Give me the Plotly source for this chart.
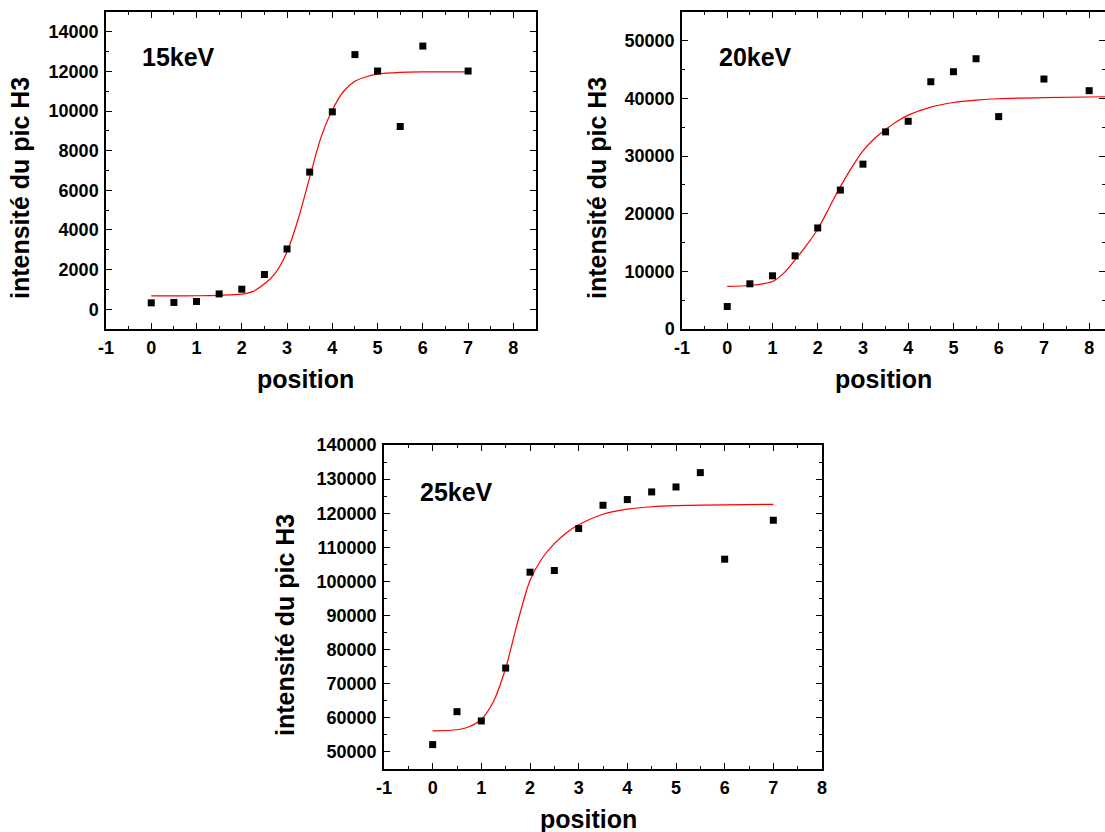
import plotly.graph_objects as go

# ---------------- data ----------------
pos_15 = [0, 0.5, 1, 1.5, 2, 2.5, 3, 3.5, 4, 4.5, 5, 5.5, 6, 7]
int_15 = [320, 340, 390, 770, 1010, 1750, 3040, 6920, 9960, 12850, 12020, 9220, 13280, 12020]
fit_x_15 = [0, 0.5, 1, 1.5, 2, 2.25, 2.5, 2.75, 3, 3.25, 3.5, 3.75, 4, 4.25, 4.5, 4.75, 5, 5.5, 6, 7]
fit_y_15 = [670, 670, 677, 700, 760, 900, 1280, 1850, 2900, 4580, 6650, 8670, 10050, 11000, 11500, 11730, 11860, 11950, 11975, 11980]

pos_20 = [0, 0.5, 1, 1.5, 2, 2.5, 3, 3.5, 4, 4.5, 5, 5.5, 6, 7, 8]
int_20 = [3900, 7840, 9230, 12690, 17530, 24100, 28600, 34200, 36040, 42900, 44640, 46890, 36850, 43370, 41350]
fit_x_20 = [0, 0.5, 1, 1.25, 1.5, 1.75, 2, 2.25, 2.5, 2.75, 3, 3.25, 3.5, 3.75, 4, 4.5, 5, 5.5, 6, 7, 8.4]
fit_y_20 = [7400, 7550, 8250, 9700, 12000, 14500, 17300, 21000, 24700, 28000, 30900, 33000, 34600, 36000, 37100, 38500, 39300, 39700, 39950, 40150, 40300]

pos_25 = [0, 0.5, 1, 1.5, 2, 2.5, 3, 3.5, 4, 4.5, 5, 5.5, 6, 7]
int_25 = [52150, 61810, 59080, 74600, 102710, 103200, 115500, 122330, 124000, 126240, 127700, 131900, 106520, 117940]
fit_x_25 = [0, 0.5, 0.75, 1, 1.25, 1.5, 1.75, 2, 2.25, 2.5, 2.75, 3, 3.5, 4, 4.5, 5, 6, 7]
fit_y_25 = [56200, 56500, 57400, 59600, 64800, 74600, 88300, 100300, 106800, 111100, 114300, 116600, 119700, 121200, 121900, 122200, 122450, 122600]

x_ticks = [-1, 0, 1, 2, 3, 4, 5, 6, 7, 8]
y_ticks_15 = [0, 2000, 4000, 6000, 8000, 10000, 12000, 14000]
y_ticks_20 = [0, 10000, 20000, 30000, 40000, 50000]
y_ticks_25 = [50000, 60000, 70000, 80000, 90000, 100000, 110000, 120000, 130000, 140000]

labels = ["15keV", "20keV", "25keV"]
x_title = "position"
y_title = "intensité du pic H3"

# ---------------- figure ----------------
W, H = 1105, 832
FONT = "Liberation Sans"

def px(x):
    return x / W

def py(y):
    return 1 - y / H

fig = go.Figure()

panels = [
    dict(xs=pos_15, ys=int_15, fx=fit_x_15, fy=fit_y_15, xa="x", ya="y"),
    dict(xs=pos_20, ys=int_20, fx=fit_x_20, fy=fit_y_20, xa="x2", ya="y2"),
    dict(xs=pos_25, ys=int_25, fx=fit_x_25, fy=fit_y_25, xa="x3", ya="y3"),
]
for p in panels:
    fig.add_trace(go.Scatter(x=p["fx"], y=p["fy"], mode="lines",
                             line=dict(color="#ff0000", width=1.2, shape="spline", smoothing=0.8),
                             xaxis=p["xa"], yaxis=p["ya"], showlegend=False, hoverinfo="skip",
                             cliponaxis=True))
    fig.add_trace(go.Scatter(x=p["xs"], y=p["ys"], mode="markers",
                             marker=dict(symbol="square", size=7, color="black"),
                             xaxis=p["xa"], yaxis=p["ya"], showlegend=False))

tickfont = dict(family=FONT, size=18, color="black", weight="bold")

def xaxis(domain, rng, anchor):
    return dict(domain=domain, range=rng, anchor=anchor, automargin=False,
                tickvals=x_ticks, ticktext=[str(v) for v in x_ticks],
                ticks="inside", ticklen=6, tickwidth=1.3, tickcolor="black",
                minor=dict(dtick=0.5, tick0=0, ticks="inside", ticklen=3, tickwidth=1.3, tickcolor="black"),
                showline=True, linecolor="black", linewidth=1.5, mirror="ticks",
                showgrid=False, zeroline=False, tickfont=tickfont, ticklabelstandoff=2)

def yaxis(domain, rng, anchor, tv, minor_step):
    return dict(domain=domain, range=rng, anchor=anchor, automargin=False,
                tickvals=tv, ticktext=[str(v) for v in tv],
                ticks="inside", ticklen=6, tickwidth=1.3, tickcolor="black",
                minor=dict(dtick=minor_step, tick0=0, ticks="inside", ticklen=3, tickwidth=1.3, tickcolor="black"),
                showline=True, linecolor="black", linewidth=1.5, mirror="ticks",
                showgrid=False, zeroline=False, tickfont=tickfont, ticklabelstandoff=2)

fig.update_layout(
    width=W, height=H,
    margin=dict(l=0, r=0, t=0, b=0, autoexpand=False),
    paper_bgcolor="white", plot_bgcolor="white",
    xaxis=xaxis([px(106), px(536)], [-1, 8.5], "y"),
    yaxis=yaxis([py(329), py(12)], [-1000, 15000], "x", y_ticks_15, 1000),
    xaxis2=xaxis([px(682), 1.0], [-1, 8.35], "y2"),
    yaxis2=yaxis([py(329), py(12)], [0, 55000], "x2", y_ticks_20, 5000),
    xaxis3=xaxis([px(384), px(822)], [-1, 8], "y3"),
    yaxis3=yaxis([py(769), py(445)], [45000, 140000], "x3", y_ticks_25, 5000),
)

titlefont = dict(family=FONT, size=25, color="black", weight="bold")
labelfont = dict(family=FONT, size=25, color="black", weight="bold")

ann = []
for cx, cy in [(305, 379), (883, 379), (588, 819)]:
    ann.append(dict(x=px(cx), y=py(cy), xref="paper", yref="paper", text=x_title,
                    showarrow=False, xanchor="center", yanchor="middle", font=titlefont))
for cx, cy in [(20, 188), (597, 188), (285, 625)]:
    ann.append(dict(x=px(cx), y=py(cy), xref="paper", yref="paper", text=y_title,
                    textangle=-90, showarrow=False, xanchor="center", yanchor="middle", font=titlefont))
for (cx, cy), t in zip([(178, 57), (755, 57), (457, 492)], labels):
    ann.append(dict(x=px(cx), y=py(cy), xref="paper", yref="paper", text=t,
                    showarrow=False, xanchor="center", yanchor="middle", font=labelfont))
fig.update_layout(annotations=ann)

fig.write_html("out.html", config={"displayModeBar": False})

with open("out.html", "r", encoding="utf-8") as f:
    html = f.read()
html = html.replace("<body>", '<body style="margin:0;padding:0;overflow:hidden;">', 1)
with open("out.html", "w", encoding="utf-8") as f:
    f.write(html)
